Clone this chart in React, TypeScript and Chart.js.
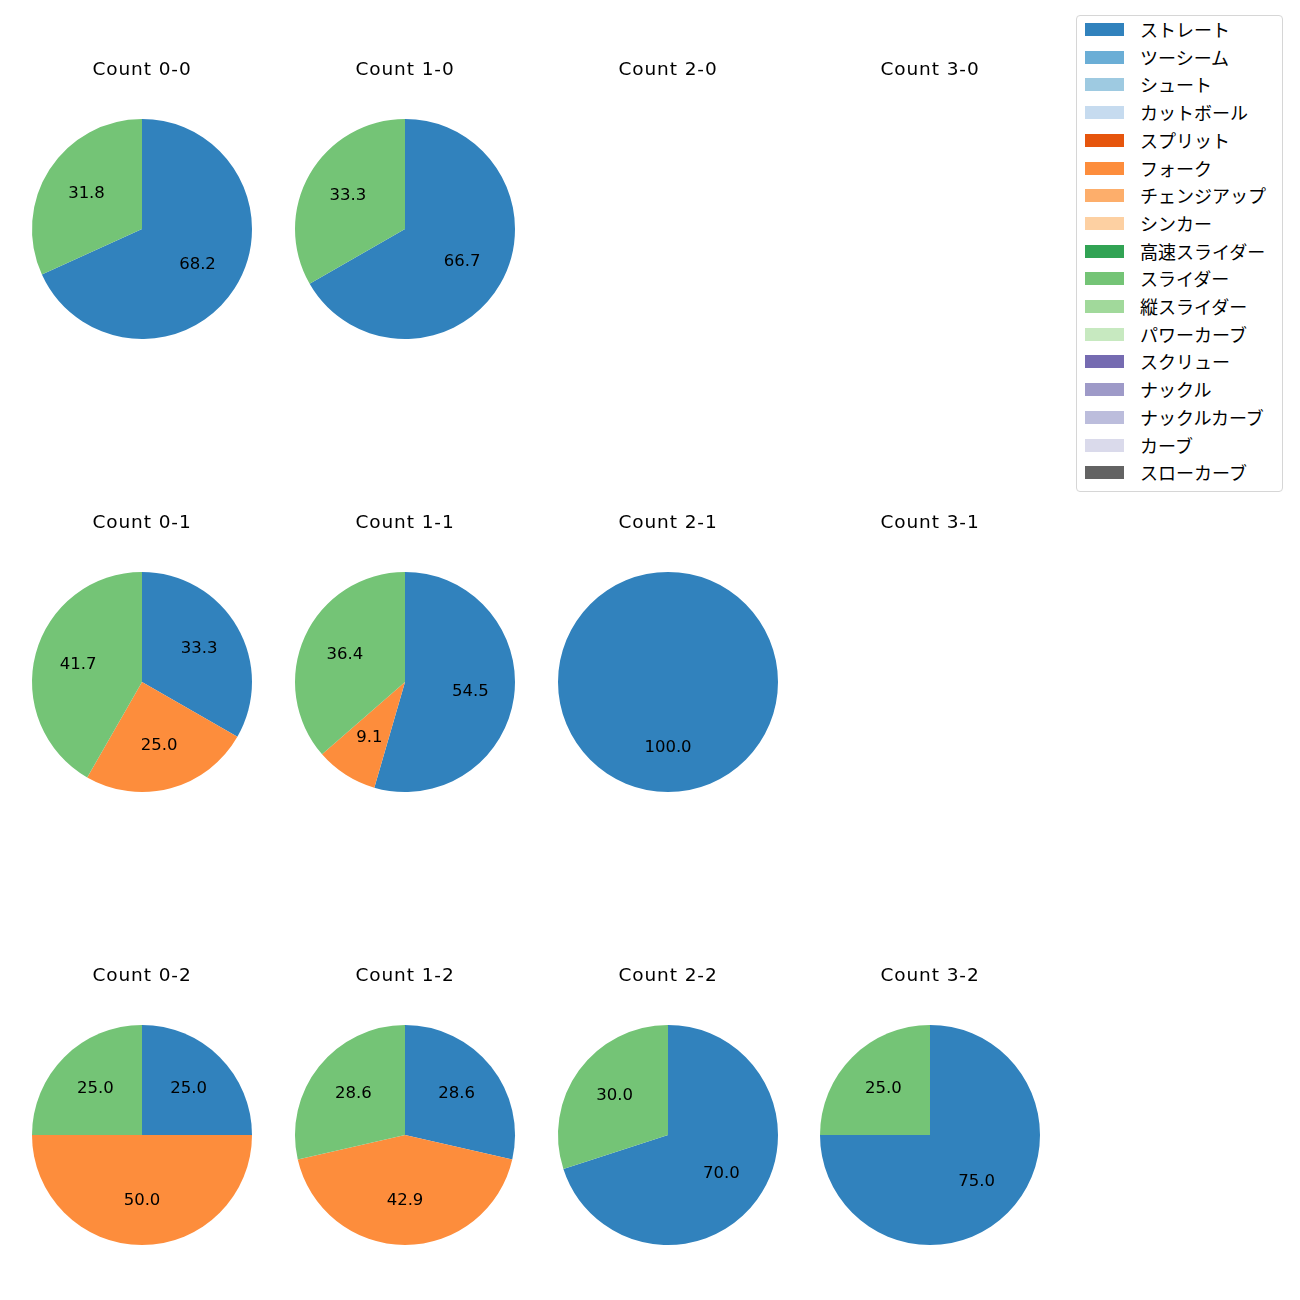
import React, { useEffect, useRef } from "react";
import { Chart, registerables } from "chart.js";

Chart.register(...registerables);

const pitchTypes = [
  "ストレート", "ツーシーム", "シュート", "カットボール", "スプリット", "フォーク",
  "チェンジアップ", "シンカー", "高速スライダー", "スライダー", "縦スライダー",
  "パワーカーブ", "スクリュー", "ナックル", "ナックルカーブ", "カーブ", "スローカーブ",
];
const pitchColors = [
  "#3182bd", "#6baed6", "#9ecae1", "#c6dbef", "#e6550d", "#fd8d3c",
  "#fdae6b", "#fdd0a2", "#31a354", "#74c476", "#a1d99b", "#c7e9c0",
  "#756bb1", "#9e9ac8", "#bcbddc", "#dadaeb", "#636363",
];

const countLabels = ["0-0", "1-0", "2-0", "3-0", "0-1", "1-1", "2-1", "3-1", "0-2", "1-2", "2-2", "3-2"];
// percentage share per count (order follows countLabels)
const straightPct = [68.2, 66.7, 0, 0, 33.3, 54.5, 100.0, 0, 25.0, 28.6, 70.0, 75.0];
const forkPct = [0, 0, 0, 0, 25.0, 9.1, 0, 0, 50.0, 42.9, 0, 0];
const sliderPct = [31.8, 33.3, 0, 0, 41.7, 36.4, 0, 0, 25.0, 28.6, 30.0, 25.0];

const LATIN_FONT = "'DejaVu Sans', 'Noto Sans CJK JP', sans-serif";
const JP_FONT = "'Noto Sans CJK JP', 'DejaVu Sans', sans-serif";
const colCenters = [141.5, 404.5, 667.5, 930];
const rowCenters = [229, 682, 1134.5];

function valuesFor(i: number): number[] {
  return pitchTypes.map((p) => {
    if (p === "ストレート") return straightPct[i];
    if (p === "フォーク") return forkPct[i];
    if (p === "スライダー") return sliderPct[i];
    return 0;
  });
}

const spacingPlugin = {
  id: "letterSpacing",
  beforeDraw(chart: any) {
    try {
      (chart.ctx as any).letterSpacing = "0.9px";
    } catch (e) {}
  },
  beforeDatasetsDraw(chart: any) {
    try {
      (chart.ctx as any).letterSpacing = "0px";
    } catch (e) {}
  },
};

const pctLabelPlugin = {
  id: "pctLabels",
  afterDatasetsDraw(chart: any) {
    const ctx = chart.ctx;
    const meta = chart.getDatasetMeta(0);
    const data = chart.data.datasets[0].data as number[];
    ctx.save();
    try {
      (ctx as any).letterSpacing = "0px";
    } catch (e) {}
    ctx.font = `16.5px ${LATIN_FONT}`;
    ctx.fillStyle = "#000";
    ctx.textAlign = "center";
    ctx.textBaseline = "middle";
    meta.data.forEach((arc: any, idx: number) => {
      const v = data[idx];
      if (!v) return;
      const p = arc.getProps(["x", "y", "startAngle", "endAngle", "outerRadius"], true);
      const mid = (p.startAngle + p.endAngle) / 2;
      const r = p.outerRadius * 0.6;
      ctx.fillText(v.toFixed(1), p.x + Math.cos(mid) * r, p.y + Math.sin(mid) * r);
    });
    ctx.restore();
  },
};

function PieCell({ index }: { index: number }) {
  const ref = useRef<HTMLCanvasElement>(null);
  useEffect(() => {
    if (!ref.current) return;
    const chart = new Chart(ref.current, {
      type: "pie",
      data: {
        labels: pitchTypes,
        datasets: [{ data: valuesFor(index), backgroundColor: pitchColors, borderWidth: 0 }],
      },
      options: {
        responsive: false,
        animation: false,
        layout: { padding: { left: 20, right: 20, top: 0, bottom: 5 } },
        plugins: {
          legend: { display: false },
          tooltip: { enabled: false },
          title: {
            display: true,
            text: `Count ${countLabels[index]}`,
            color: "#000",
            font: { family: LATIN_FONT, size: 18.5, weight: "normal" as any, lineHeight: 1.2 },
            padding: { top: 15.5, bottom: 37.3 },
          },
        },
      },
      plugins: [spacingPlugin, pctLabelPlugin],
    });
    return () => chart.destroy();
  }, [index]);
  const col = index % 4;
  const row = Math.floor(index / 4);
  return (
    <canvas
      ref={ref}
      width={260}
      height={300}
      style={{
        position: "absolute",
        left: colCenters[col] - 130,
        top: rowCenters[row] - 185,
        width: 260,
        height: 300,
      }}
    />
  );
}

function Legend() {
  return (
    <div
      style={{
        position: "absolute",
        left: 1076,
        top: 15,
        width: 205,
        height: 475,
        border: "1px solid #d6d6d6",
        borderRadius: 4,
        background: "#fff",
        boxSizing: "content-box",
        fontFamily: JP_FONT,
        fontSize: 18,
      }}
    >
      {pitchTypes.map((p, i) => (
        <div key={p} style={{ position: "absolute", left: 0, top: 14 + i * 27.7 - 14, height: 28, width: 205 }}>
          <div
            style={{
              position: "absolute",
              left: 8,
              top: 14 - 7,
              width: 39,
              height: 13,
              background: pitchColors[i],
            }}
          />
          <div
            style={{
              position: "absolute",
              left: 63,
              top: -1,
              height: 28,
              lineHeight: "28px",
              color: "#000",
              whiteSpace: "nowrap",
            }}
          >
            {p}
          </div>
        </div>
      ))}
    </div>
  );
}

export default function App() {
  return (
    <div style={{ position: "absolute", left: 0, top: 0, width: 1300, height: 1300, background: "#fff" }}>
      {countLabels.map((_, i) => (
        <PieCell key={i} index={i} />
      ))}
      <Legend />
    </div>
  );
}
